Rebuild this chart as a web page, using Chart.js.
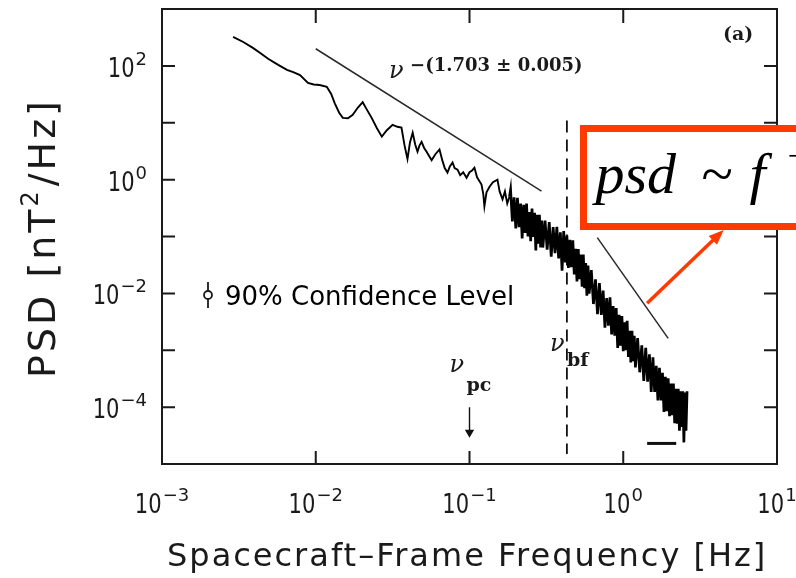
<!DOCTYPE html>
<html>
<head>
<meta charset="utf-8">
<title>Magnetic field power spectrum</title>
<script src="https://cdn.jsdelivr.net/npm/chart.js@4.4.1/dist/chart.umd.min.js"></script>
<style>
  html, body { margin: 0; padding: 0; background: #fff; }
  canvas { display: block; }
</style>
</head>
<body>
<canvas id="psdChart" width="796" height="578"></canvas>
<script>
// Spectrum, low-frequency part (Hz, nT^2/Hz)
const smoothFreq = [0.0029, 0.0034, 0.0039, 0.0044, 0.0049, 0.0057, 0.0065, 0.0072, 0.0079, 0.0089,
    0.0097, 0.0106, 0.0118, 0.0126, 0.0133, 0.0142, 0.0150, 0.0162, 0.0174, 0.0188,
    0.0202, 0.0215, 0.0231, 0.0250, 0.0269, 0.0290, 0.0316, 0.0340, 0.0361, 0.0378,
    0.0395, 0.0410, 0.0427, 0.0443, 0.0459, 0.0473, 0.0488, 0.0507, 0.0526, 0.0546,
    0.0567, 0.0600, 0.0638, 0.0665, 0.0690, 0.0719, 0.0745, 0.0776, 0.0800, 0.0836,
    0.0870, 0.0910, 0.0957, 0.1000, 0.1040, 0.1077, 0.1120, 0.1197, 0.1230, 0.1250,
    0.1290, 0.1350, 0.1420, 0.1520, 0.1570, 0.1640, 0.1700, 0.1760, 0.1820];
const smoothPsd = [323, 260, 207, 165, 133, 104, 85, 77, 69, 50,
    47, 46, 43, 32, 22, 15, 12.2, 12.0, 13.8, 18.5,
    23, 17, 12.2, 8.0, 5.7, 7.4, 9.2, 8.5, 8.2, 4.0,
    2.3, 4.5, 6.7, 4.2, 3.1, 4.0, 4.6, 3.6, 3.1, 2.6,
    2.2, 2.8, 3.4, 2.2, 1.6, 1.33, 1.7, 2.0, 1.6, 1.5,
    1.2, 1.35, 1.08, 1.35, 1.45, 1.62, 1.1, 0.82, 0.55, 0.34,
    0.6, 0.75, 0.9, 1.0, 0.62, 0.45, 0.62, 0.38, 0.50];

// Spectrum, noisy high-frequency part
const bandFreq = [0.185, 0.19, 0.195, 0.2, 0.205, 0.21, 0.215, 0.22, 0.225, 0.23,
    0.235, 0.24, 0.245, 0.25, 0.255, 0.26, 0.265, 0.27, 0.275, 0.28,
    0.285, 0.29, 0.295, 0.30,
    0.31, 0.32, 0.33, 0.34, 0.35, 0.36, 0.37, 0.38, 0.39, 0.40,
    0.41, 0.42, 0.43, 0.44, 0.45, 0.46, 0.47, 0.48, 0.49, 0.50,
    0.51, 0.52, 0.53, 0.54, 0.55, 0.56, 0.57, 0.58, 0.59, 0.60,
    0.62, 0.64, 0.66, 0.68, 0.70, 0.72, 0.74, 0.76, 0.78, 0.80,
    0.82, 0.84, 0.86, 0.88, 0.90, 0.92, 0.94, 0.96, 0.98, 1.00,
    1.02, 1.04, 1.06, 1.08, 1.10, 1.12, 1.14, 1.16, 1.18, 1.20,
    1.24, 1.28, 1.32, 1.36, 1.40, 1.44, 1.48, 1.52, 1.56, 1.60,
    1.64, 1.68, 1.72, 1.76, 1.80, 1.84, 1.88, 1.92, 1.96, 2.00,
    2.04, 2.08, 2.12, 2.16, 2.20, 2.24, 2.28, 2.32, 2.36, 2.40,
    2.44, 2.48, 2.52, 2.56, 2.60];
const bandPsd = [0.66, 0.185, 0.49, 0.139, 0.48, 0.146, 0.38, 0.092, 0.36, 0.116,
    0.38, 0.10, 0.27, 0.083, 0.31, 0.098, 0.26, 0.057, 0.24, 0.075,
    0.24, 0.064, 0.19, 0.064,
    0.19, 0.059, 0.18, 0.044, 0.146, 0.051, 0.148, 0.041, 0.118, 0.025,
    0.125, 0.035, 0.104, 0.028, 0.087, 0.029, 0.086, 0.0216, 0.061, 0.0162,
    0.060, 0.0177, 0.048, 0.0131, 0.048, 0.0123, 0.034, 0.0091, 0.031, 0.0099,
    0.0256, 0.0065, 0.0176, 0.0043, 0.0152, 0.0042, 0.0112, 0.0025, 0.0083, 0.0027,
    0.0085, 0.0019, 0.0060, 0.0018, 0.0055, 0.0011, 0.0042, 0.0012, 0.0040, 0.00096,
    0.0031, 0.0010, 0.0033, 0.00076, 0.0022, 0.00061, 0.0022, 0.00064, 0.0018, 0.0005,
    0.00164, 0.00041, 0.00122, 0.00029, 0.0011, 0.00028, 0.00085, 0.000185, 0.00075, 0.000185,
    0.00053, 0.000131, 0.00049, 0.000131, 0.0004, 0.000082, 0.00034, 0.000085, 0.00032, 0.000069,
    0.00026, 0.000072, 0.00026, 0.000052, 0.00021, 0.000051, 0.00021, 0.0000385, 0.00019, 0.000045,
    0.00019, 0.000024, 0.00018, 0.0000385, 0.00019];

// Power-law fits above and below the break
const fitLowFreq = [0.01, 0.294];
const fitLowPsd = [200, 0.63];
const fitHighFreq = [0.678, 1.96];
const fitHighPsd = [0.0955, 0.00162];

// Break frequency, proton cyclotron marker, confidence bar
const breakFreq = [0.43, 0.43];
const breakPsd = [11, 1.5e-5];
const pcFreq = [0.1, 0.1];
const pcPsd = [1e-4, 3.6e-5];
const confFreq = [1.43, 2.21];
const confPsd = [2.3e-5, 2.3e-5];

// Axis decades
const xTickExps = [-2, -1, 0];
const yTickExps = [-4, -3, -2, -1, 0, 1, 2];
const xLabelExps = [-3, -2, -1, 0, 1];
const yLabelExps = [-4, -2, 0, 2];

const INK = '#1a1a1a';
const RED = '#ff3a00';

const pts = (xs, ys) => xs.map((v, i) => ({ x: v, y: ys[i] }));

function expText(e) {
    return e < 0 ? '\u2212' + (-e) : String(e);
}

// "10" squeezed a bit, exponent raised after it
function powerWidth(ctx, e) {
    ctx.font = '27px "DejaVu Sans"';
    const w10 = ctx.measureText('10').width * 0.78;
    ctx.font = '18px "DejaVu Sans"';
    return w10 + 1 + ctx.measureText(expText(e)).width;
}

function drawPower(ctx, e, x0, baseY, supY) {
    ctx.font = '27px "DejaVu Sans"';
    const w10 = ctx.measureText('10').width * 0.78;
    ctx.save();
    ctx.translate(x0, baseY);
    ctx.scale(0.78, 1);
    ctx.fillText('10', 0, 0);
    ctx.restore();
    ctx.font = '18px "DejaVu Sans"';
    ctx.fillText(expText(e), x0 + w10 + 1, supY);
}

const decorations = {
    id: 'decorations',
    afterDatasetsDraw(chart) {
        const { ctx, chartArea: a, scales: { x, y } } = chart;
        ctx.save();
        ctx.strokeStyle = INK;
        ctx.fillStyle = INK;
        ctx.textAlign = 'left';
        ctx.textBaseline = 'alphabetic';

        // frame and inward ticks
        ctx.lineWidth = 2;
        ctx.strokeRect(a.left, a.top, a.right - a.left, a.bottom - a.top);
        ctx.beginPath();
        xTickExps.forEach(e => {
            const px = x.getPixelForValue(10 ** e);
            ctx.moveTo(px, a.top); ctx.lineTo(px, a.top + 14);
            ctx.moveTo(px, a.bottom); ctx.lineTo(px, a.bottom - 13);
        });
        yTickExps.forEach(e => {
            const py = y.getPixelForValue(10 ** e);
            ctx.moveTo(a.left, py); ctx.lineTo(a.left + 13, py);
            ctx.moveTo(a.right, py); ctx.lineTo(a.right - 13, py);
        });
        ctx.stroke();

        // tick labels
        xLabelExps.forEach(e => {
            const px = x.getPixelForValue(10 ** e);
            const w = powerWidth(ctx, e);
            drawPower(ctx, e, px - w / 2, a.bottom + 49, a.bottom + 37);
        });
        yLabelExps.forEach(e => {
            const py = y.getPixelForValue(10 ** e);
            const w = powerWidth(ctx, e);
            drawPower(ctx, e, a.left - 15 - w, py + 11, py - 1);
        });

        // axis titles
        ctx.font = '32px "DejaVu Sans"';
        ctx.letterSpacing = '2px';
        ctx.fillText('Spacecraft\u2013Frame Frequency [Hz]', 167, a.bottom + 102);

        ctx.save();
        ctx.translate(55, 378);
        ctx.rotate(-Math.PI / 2);
        ctx.font = '38px "DejaVu Sans"';
        ctx.letterSpacing = '3px';
        let u = 0;
        ctx.fillText('PSD [nT', u, 0);
        u += ctx.measureText('PSD [nT').width;
        ctx.font = '24px "DejaVu Sans"';
        ctx.fillText('2', u, -17);
        u += ctx.measureText('2').width + 2;
        ctx.font = '38px "DejaVu Sans"';
        ctx.fillText('/Hz]', u, 0);
        ctx.restore();
        ctx.letterSpacing = '0px';

        // panel tag
        ctx.font = 'bold 19px "DejaVu Serif"';
        ctx.fillText('(a)', a.right - 54, a.top + 31);

        // slope of the low-frequency fit
        const nuX = x.getPixelForValue(0.03);
        const nuY = y.getPixelForValue(60);
        ctx.font = 'italic 24px "DejaVu Serif"';
        ctx.fillText('\u03bd', nuX, nuY);
        ctx.font = 'bold 18px "DejaVu Serif"';
        ctx.fillText('\u2212(1.703 \u00b1 0.005)', nuX + 21, nuY - 7);

        // proton cyclotron and break frequency labels
        const pcX = x.getPixelForValue(pcFreq[0]);
        const pcTop = y.getPixelForValue(pcPsd[0]);
        ctx.font = 'italic 24px "DejaVu Serif"';
        ctx.fillText('\u03bd', pcX - 20, pcTop - 35);
        ctx.font = 'bold 19px "DejaVu Serif"';
        ctx.fillText('pc', pcX - 3, pcTop - 16);

        const bfX = x.getPixelForValue(breakFreq[0]);
        const bfY = y.getPixelForValue(1e-3);
        ctx.font = 'italic 24px "DejaVu Serif"';
        ctx.fillText('\u03bd', bfX - 17, bfY + 1);
        ctx.font = 'bold 19px "DejaVu Serif"';
        ctx.fillText('bf', bfX, bfY + 16);

        // confidence level key
        const keyX = a.left + 46;
        const keyY = a.top + 286;
        ctx.lineWidth = 1.8;
        ctx.beginPath();
        ctx.moveTo(keyX, keyY - 13); ctx.lineTo(keyX, keyY + 13);
        ctx.stroke();
        ctx.fillStyle = '#fff';
        ctx.beginPath();
        ctx.arc(keyX, keyY, 4, 0, Math.PI * 2);
        ctx.fill(); ctx.stroke();
        ctx.fillStyle = '#000';
        ctx.font = '26px "DejaVu Sans"';
        ctx.fillText('90% Confidence Level', keyX + 17, keyY + 10);

        // red callout box with the power law
        const bx = a.left + 421.5, by = a.top + 119.5, bh = 98;
        ctx.fillStyle = '#fff';
        ctx.fillRect(bx, by, 230, bh);
        ctx.strokeStyle = RED;
        ctx.lineWidth = 7;
        ctx.strokeRect(bx, by, 230, bh);
        ctx.fillStyle = '#000';
        ctx.font = 'italic 58px "Liberation Serif"';
        ctx.fillText('psd', bx + 12, by + 64);
        ctx.font = '58px "Liberation Serif"';
        ctx.fillText('~', bx + 118, by + 64);
        ctx.font = 'italic 58px "Liberation Serif"';
        ctx.fillText('f', bx + 166, by + 64);
        ctx.font = '34px "Liberation Serif"';
        ctx.fillText('\u2212\u03b1', bx + 204, by + 38);

        // arrow from the steep fit to the box
        const sx = x.getPixelForValue(1.43), sy = y.getPixelForValue(0.0067);
        const tx = x.getPixelForValue(4.5), ty = y.getPixelForValue(0.13);
        const ang = Math.atan2(ty - sy, tx - sx);
        const head = 15;
        ctx.strokeStyle = RED;
        ctx.fillStyle = RED;
        ctx.lineWidth = 3.5;
        ctx.beginPath();
        ctx.moveTo(sx, sy);
        ctx.lineTo(tx - head * 0.8 * Math.cos(ang), ty - head * 0.8 * Math.sin(ang));
        ctx.stroke();
        ctx.beginPath();
        ctx.moveTo(tx, ty);
        ctx.lineTo(tx - head * Math.cos(ang) + 6 * Math.sin(ang), ty - head * Math.sin(ang) - 6 * Math.cos(ang));
        ctx.lineTo(tx - head * Math.cos(ang) - 6 * Math.sin(ang), ty - head * Math.sin(ang) + 6 * Math.cos(ang));
        ctx.closePath();
        ctx.fill();

        ctx.restore();
    }
};

// the band starts where the smooth trace ends, drawn with a heavier pen
const smoothTrace = pts(smoothFreq, smoothPsd);
const bandTrace = pts(smoothFreq.slice(-1).concat(bandFreq), smoothPsd.slice(-1).concat(bandPsd));

new Chart(document.getElementById('psdChart'), {
    type: 'line',
    data: {
        datasets: [{
            label: 'PSD',
            data: smoothTrace,
            borderColor: '#000',
            borderWidth: 1.9,
            pointRadius: 0,
            tension: 0
        }, {
            label: 'PSD band',
            data: bandTrace,
            borderColor: '#000',
            borderWidth: 2.7,
            borderJoinStyle: 'miter',
            pointRadius: 0,
            tension: 0
        }, {
            label: 'low fit',
            data: pts(fitLowFreq, fitLowPsd),
            borderColor: '#2a2a2a',
            borderWidth: 1.5,
            pointRadius: 0
        }, {
            label: 'high fit',
            data: pts(fitHighFreq, fitHighPsd),
            borderColor: '#2a2a2a',
            borderWidth: 1.5,
            pointRadius: 0
        }, {
            label: 'break',
            data: pts(breakFreq, breakPsd),
            borderColor: '#111',
            borderWidth: 1.8,
            borderDash: [12, 7],
            pointRadius: 0
        }, {
            label: 'pc',
            data: pts(pcFreq, pcPsd),
            borderColor: '#111',
            borderWidth: 1.4,
            pointRadius: [0, 4],
            pointStyle: 'triangle',
            rotation: 180,
            pointBackgroundColor: '#111',
            pointBorderColor: '#111'
        }, {
            label: 'confidence',
            data: pts(confFreq, confPsd),
            borderColor: '#111',
            borderWidth: 3,
            pointRadius: 0
        }]
    },
    options: {
        responsive: false,
        animation: false,
        layout: {
            padding: { left: 162, right: 19, top: 9, bottom: 114 }
        },
        scales: {
            x: { type: 'logarithmic', min: 1e-3, max: 10, display: false },
            y: { type: 'logarithmic', min: 1e-5, max: 1e3, display: false }
        },
        plugins: {
            legend: { display: false },
            tooltip: { enabled: false }
        }
    },
    plugins: [decorations]
});
</script>
</body>
</html>
